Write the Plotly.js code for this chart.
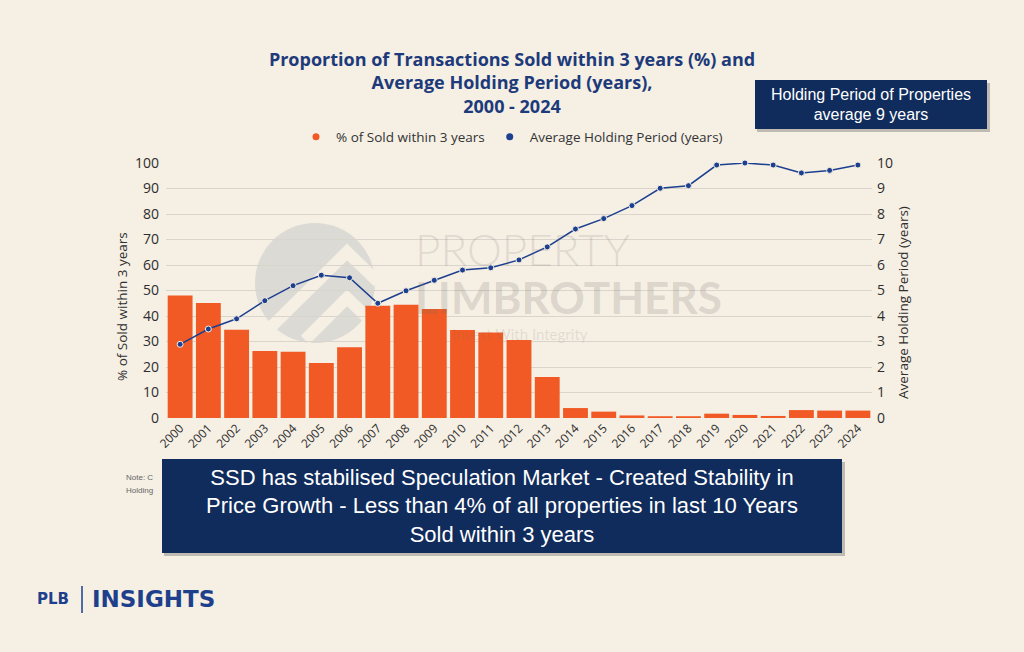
<!DOCTYPE html>
<html>
<head>
<meta charset="utf-8">
<script src="https://cdn.plot.ly/plotly-3.0.1.min.js"></script>
<style>
html,body{margin:0;padding:0;background:#f5efe4;}
#chart{width:1024px;height:652px;}
</style>
</head>
<body>
<div id="chart"></div>
<script>
const years = ["2000","2001","2002","2003","2004","2005","2006","2007","2008","2009","2010","2011","2012","2013","2014","2015","2016","2017","2018","2019","2020","2021","2022","2023","2024"];
const soldWithin3Years = [48.0,45.1,34.6,26.3,26.0,21.6,27.7,44.0,44.4,42.7,34.5,33.5,30.6,16.1,3.9,2.5,1.0,0.7,0.7,1.7,1.2,0.8,3.1,2.9,2.9];
const avgHoldingPeriod = [2.89,3.49,3.89,4.60,5.19,5.60,5.50,4.50,4.99,5.40,5.80,5.89,6.20,6.71,7.41,7.82,8.33,9.01,9.11,9.92,10.0,9.92,9.61,9.71,9.92];
const leftTicks = [0,10,20,30,40,50,60,70,80,90,100];
const rightTicks = [0,1,2,3,4,5,6,7,8,9,10];

const ORANGE = "#f15a24";
const NAVY = "#1c3f8f";
const BG = "#f5efe4";
const FONT = "'Open Sans', Roboto, sans-serif";

// plot area in pixels: x 166..872, y 163..418
const PL = 166, PR = 872, PT = 163, PB = 418;
const px = v => (v - PL) / (PR - PL);
const py = v => (PB - v) / (PB - PT);

const traces = [
  {type:"bar", x:years, y:soldWithin3Years, marker:{color:ORANGE}, showlegend:false, yaxis:"y", hoverinfo:"x+y"},
  {type:"scatter", mode:"lines+markers", x:years, y:avgHoldingPeriod, yaxis:"y2", showlegend:false, cliponaxis:false,
   line:{color:NAVY, width:1.5}, marker:{color:NAVY, size:6, line:{color:"#f3ede2", width:1}}},
  {type:"scatter", mode:"markers", x:[null], y:[null], name:"% of Sold within 3 years", marker:{color:ORANGE, size:7, symbol:"circle"}, showlegend:true},
  {type:"scatter", mode:"markers", x:[null], y:[null], name:"Average Holding Period (years)", marker:{color:NAVY, size:7, symbol:"circle"}, showlegend:true}
];

const layout = {
  width:1024, height:652,
  paper_bgcolor:BG, plot_bgcolor:"rgba(0,0,0,0)",
  margin:{l:PL, r:1024-PR, t:PT, b:652-PB, autoexpand:false},
  font:{family:FONT, color:"#2e2e2e"},
  title:{text:"Proportion of Transactions Sold within 3 years (%) and<br>Average Holding Period (years),<br>2000 - 2024",
         font:{family:FONT, size:18, color:"#1d3a7a", weight:"bold"},
         x:0.5, xref:"container", xanchor:"center", y:1-66/652, yref:"container", yanchor:"top"},
  legend:{orientation:"h", xref:"container", yref:"container", x:0.5, xanchor:"center", y:1-137/652, yanchor:"middle",
          font:{size:13.5, color:"#333"}, itemwidth:30, tracegroupgap:0, bgcolor:"rgba(0,0,0,0)"},
  bargap:0.12,
  xaxis:{type:"category", range:[-0.5, 24.5], tickangle:-45, tickfont:{size:12, color:"#2e2e2e"}, showgrid:false, zeroline:false, showline:false, ticks:"", fixedrange:true},
  yaxis:{range:[0,100], tickvals:leftTicks, tickfont:{size:14, color:"#2e2e2e"}, gridcolor:"#d9d5cc", gridwidth:1, zeroline:false,
         ticks:"", ticklabelstandoff:6},
  yaxis2:{range:[0,10], tickvals:rightTicks, overlaying:"y", side:"right", showgrid:false, zeroline:false, ticks:"",
          tickfont:{size:14, color:"#2e2e2e"}, ticklabelstandoff:4},
  shapes:[
    // watermark circle and chevrons
    {type:"circle", xref:"paper", yref:"paper", x0:px(255), x1:px(375), y0:py(343), y1:py(223), fillcolor:"#dcdad5", line:{width:0}, layer:"below"},
    {type:"path", xref:"paper", yref:"paper", path:`M ${px(272)} ${py(326)} L ${px(347)} ${py(252)} L ${px(378)} ${py(282)}`, line:{color:BG, width:12}, layer:"below"},
    {type:"path", xref:"paper", yref:"paper", path:`M ${px(305)} ${py(340)} L ${px(347)} ${py(298)} L ${px(374)} ${py(324)}`, line:{color:BG, width:12}, layer:"below"},
    // box shadows
    {type:"rect", xref:"paper", yref:"paper", x0:px(757), x1:px(990), y0:py(132), y1:py(83), fillcolor:"rgba(0,0,0,0.22)", line:{width:0}, layer:"above"},
    {type:"rect", xref:"paper", yref:"paper", x0:px(164), x1:px(845), y0:py(556), y1:py(462), fillcolor:"rgba(0,0,0,0.22)", line:{width:0}, layer:"above"},
    // logo divider
    {type:"line", xref:"paper", yref:"paper", x0:px(82), x1:px(82), y0:py(586), y1:py(613), line:{color:"#1d3f8c", width:1.5}, layer:"above"}
  ],
  annotations:[
    // axis titles
    {text:"% of Sold within 3 years", xref:"paper", yref:"paper", x:px(122), y:py(307), xanchor:"center", yanchor:"middle", textangle:-90, showarrow:false,
     font:{family:FONT, size:13.5, color:"#2e2e2e"}},
    {text:"Average Holding Period (years)", xref:"paper", yref:"paper", x:px(903), y:py(303), xanchor:"center", yanchor:"middle", textangle:-90, showarrow:false,
     font:{family:FONT, size:13.5, color:"#2e2e2e"}},
    // watermark text
    {text:"PROPERTY", xref:"paper", yref:"paper", x:px(413), y:py(249), xanchor:"left", yanchor:"middle", showarrow:false,
     font:{family:"Lato, sans-serif", size:44, color:"rgba(120,110,100,0.18)", weight:300}},
    {text:"LIMBROTHERS", xref:"paper", yref:"paper", x:px(413), y:py(297), xanchor:"left", yanchor:"middle", showarrow:false,
     font:{family:"Lato, sans-serif", size:44, color:"rgba(120,110,100,0.2)", weight:"bold"}},
    {text:"Invest With Integrity", xref:"paper", yref:"paper", x:px(450), y:py(334), xanchor:"left", yanchor:"middle", showarrow:false,
     font:{family:"Lato, sans-serif", size:15, color:"rgba(120,110,100,0.16)"}},
    // note text partly hidden
    {text:"Note: C", xref:"paper", yref:"paper", x:px(124), y:py(477), xanchor:"left", yanchor:"middle", showarrow:false,
     font:{family:"Liberation Sans, Arial, sans-serif", size:8, color:"#666"}},
    {text:"Holding", xref:"paper", yref:"paper", x:px(124), y:py(491), xanchor:"left", yanchor:"middle", showarrow:false,
     font:{family:"Liberation Sans, Arial, sans-serif", size:8, color:"#666"}},
    // callout boxes
    {text:"Holding Period of Properties<br>average 9 years", xref:"paper", yref:"paper", x:px(871), y:py(104.5), xanchor:"center", yanchor:"middle",
     showarrow:false, width:232, height:49, bgcolor:"#102c5c", borderpad:0, borderwidth:0,
     font:{family:"Liberation Sans, Arial, sans-serif", size:16, color:"#ffffff"}},
    {text:"SSD has stabilised Speculation Market - Created Stability in<br>Price Growth - Less than 4% of all properties in last 10 Years<br>Sold within 3 years",
     xref:"paper", yref:"paper", x:px(502), y:py(506), xanchor:"center", yanchor:"middle",
     showarrow:false, width:680, height:94, bgcolor:"#102c5c", borderpad:0, borderwidth:0,
     font:{family:"Liberation Sans, Arial, sans-serif", size:22, color:"#ffffff"}},
    // logo
    {text:"PLB", xref:"paper", yref:"paper", x:px(35), y:py(599), xanchor:"left", yanchor:"middle", showarrow:false,
     font:{family:"DejaVu Sans, sans-serif", size:15, color:"#1d3f8c", weight:"bold"}},
    {text:"INSIGHTS", xref:"paper", yref:"paper", x:px(90), y:py(599), xanchor:"left", yanchor:"middle", showarrow:false,
     font:{family:"DejaVu Sans, sans-serif", size:23, color:"#1d3f8c", weight:"bold"}}
  ]
};

Plotly.newPlot("chart", traces, layout, {displayModeBar:false, staticPlot:true});
</script>
</body>
</html>
